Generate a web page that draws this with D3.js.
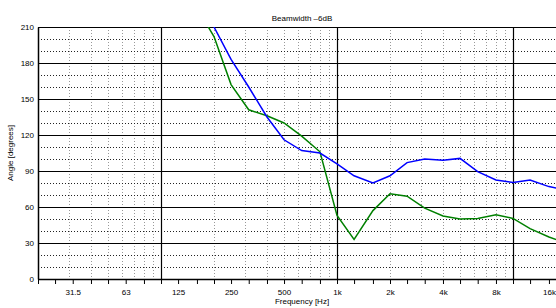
<!DOCTYPE html>
<html><head><meta charset="utf-8">
<script src="https://cdn.jsdelivr.net/npm/d3@7"></script>
<style>
html,body{margin:0;padding:0;background:#fff;}
svg{display:block;font-family:"Liberation Sans",Arial,sans-serif;}
</style></head>
<body>
<script>
const freqs = [160,200,250,315,400,500,630,800,1000,1250,1600,2000,2500,3150,4000,5000,6300,8000,10000,12500,16000,20000];
const blueVals = [237,210,183,160,135,116,107,105,96,86,80,86,97,100,99,100.5,89.5,82.5,80.5,82.5,77,74];
const greenVals = [226,202,162,141,136,130,119,106,53,33,57,71,69,59,52.5,50,50.5,53.5,50.5,42,35,30];
const tickFreqs = [20,25,31.5,40,50,63,80,100,125,160,200,250,315,400,500,630,800,1000,1250,1600,2000,2500,3150,4000,5000,6300,8000,10000,12500,16000,20000];
const tickLabels = {31.5:"31.5",63:"63",125:"125",250:"250",500:"500",1000:"1k",2000:"2k",4000:"4k",8000:"8k",16000:"16k"};
const yTicks = [0,30,60,90,120,150,180,210];
const yMinor = [10,20,40,50,70,80,100,110,130,140,160,170,190,200];
const title = "Beamwidth \u20136dB";
const xTitle = "Frequency [Hz]";
const yTitle = "Angle [degrees]";

const W = 556, H = 308;
const L = 38, R = 566, T = 27, B = 279;
const svg = d3.select("body").append("svg").attr("width", W).attr("height", H);
const x = d3.scaleLog().domain([20, 20000]).range([L, R]);
const y = d3.scaleLinear().domain([0, 210]).range([B, T]);

svg.append("defs").append("clipPath").attr("id","clip")
  .append("rect").attr("x",L).attr("y",T).attr("width",R-L).attr("height",B-T);

// minor vertical grid (log minors)
const minorX = [];
[10,100,1000,10000].forEach(d => { for (let k=2;k<=9;k++){ const f=d*k; if (f>20 && f<20000) minorX.push(f);} });
svg.append("g").selectAll("line").data(minorX).join("line")
  .attr("x1", d=>Math.round(x(d))+0.5).attr("x2", d=>Math.round(x(d))+0.5)
  .attr("y1", T).attr("y2", B)
  .attr("stroke", "#999").attr("stroke-width", 1).attr("stroke-dasharray", "1,2");
// minor horizontal grid
svg.append("g").selectAll("line").data(yMinor).join("line")
  .attr("x1", L).attr("x2", W)
  .attr("y1", d=>Math.round(y(d))+0.5).attr("y2", d=>Math.round(y(d))+0.5)
  .attr("stroke", "#222").attr("stroke-width", 1).attr("stroke-dasharray", "1,2");
// major horizontal grid
svg.append("g").selectAll("line").data(yTicks.filter(d=>d>0&&d<210)).join("line")
  .attr("x1", L).attr("x2", W)
  .attr("y1", d=>Math.round(y(d))+0.5).attr("y2", d=>Math.round(y(d))+0.5)
  .attr("stroke", "#000").attr("stroke-width", 1.2);
// major vertical grid
svg.append("g").selectAll("line").data([100,1000,10000]).join("line")
  .attr("x1", d=>Math.round(x(d))+0.5).attr("x2", d=>Math.round(x(d))+0.5)
  .attr("y1", T).attr("y2", B)
  .attr("stroke", "#000").attr("stroke-width", 1.2);
// top border
svg.append("line").attr("x1",L).attr("x2",W).attr("y1",T+0.5).attr("y2",T+0.5).attr("stroke","#000").attr("stroke-width",1.2);

// lines
const line = d3.line().x((d,i)=>x(freqs[i])).y(d=>y(d));
const g = svg.append("g").attr("clip-path","url(#clip)");
g.append("path").datum(greenVals).attr("d", line).attr("fill","none").attr("stroke","#008000").attr("stroke-width",1.5);
g.append("path").datum(blueVals).attr("d", line).attr("fill","none").attr("stroke","#0000ff").attr("stroke-width",1.5);

// x axis
const xAxis = d3.axisBottom(x).tickValues(tickFreqs).tickSize(5).tickPadding(5)
  .tickFormat(d => tickLabels[d] || "");
const gx = svg.append("g").attr("transform", `translate(0,${B})`).call(xAxis);
gx.select(".domain").attr("stroke","#000").attr("stroke-width",1.5).attr("d", `M${L},0.5H${W}`);
gx.selectAll(".tick line").attr("stroke","#000").attr("stroke-width",1);
gx.selectAll(".tick text").attr("font-size", 8).attr("fill","#000").attr("font-family","Liberation Sans, Arial, sans-serif");

// y axis
const yAxis = d3.axisLeft(y).tickValues(yTicks).tickSize(0).tickPadding(4);
const gy = svg.append("g").attr("transform", `translate(${L},0)`).call(yAxis);
gy.select(".domain").attr("stroke","#000").attr("stroke-width",1.5);
gy.selectAll(".tick text").attr("font-size", 8).attr("fill","#000").attr("font-family","Liberation Sans, Arial, sans-serif");

// titles
svg.append("text").attr("x", (L+R)/2).attr("y", 21).attr("text-anchor","middle").attr("font-size",8).text(title);
svg.append("text").attr("x", (L+R)/2).attr("y", 304).attr("text-anchor","middle").attr("font-size",8).text(xTitle);
svg.append("text").attr("transform", `translate(13,${(T+B)/2}) rotate(-90)`).attr("text-anchor","middle").attr("font-size",8).text(yTitle);
</script>
</body></html>
